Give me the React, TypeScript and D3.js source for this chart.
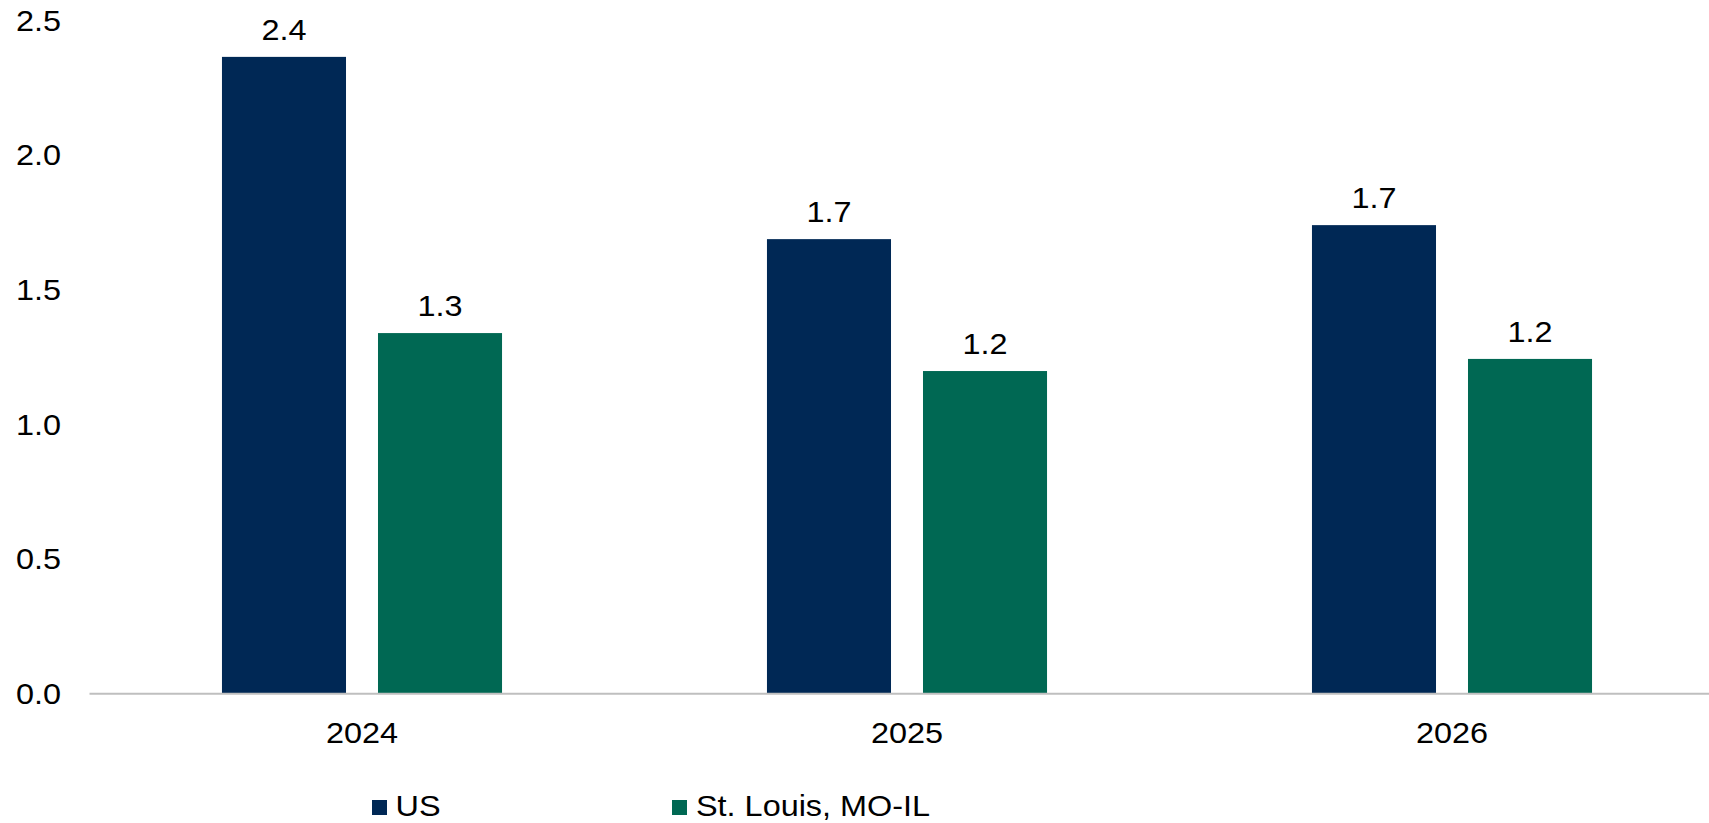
import React from "react";
import * as d3 from "d3";

// Years shown along the x axis
const categories: string[] = ["2024", "2025", "2026"];

// Series names and colours, in drawing order within each year
const seriesNames: string[] = ["US", "St. Louis, MO-IL"];
const seriesColors: string[] = ["#002855", "#006853"];

// Values per series, one per year
const usValues: number[] = [2.363, 1.686, 1.738];
const stlValues: number[] = [1.337, 1.196, 1.241];

// Y axis tick values
const yTicks: number[] = [0, 0.5, 1.0, 1.5, 2.0, 2.5];

const WIDTH = 1709;
const HEIGHT = 823;
const FONT = "'Liberation Sans', Arial, Helvetica, sans-serif";
const FS = 30;
const SX = 1.08; // horizontal stretch of the text glyphs

function Txt(props: {
  x: number;
  y: number;
  anchor?: "start" | "middle" | "end";
  children: React.ReactNode;
}) {
  return (
    <text
      transform={`translate(${props.x},${props.y}) scale(${SX},1)`}
      textAnchor={props.anchor ?? "start"}
      fontFamily={FONT}
      fontSize={FS}
      fill="#000"
    >
      {props.children}
    </text>
  );
}

export default function App() {
  const seriesValues = [usValues, stlValues];

  const x0 = d3
    .scaleBand<string>()
    .domain(categories)
    .range([89.5, 1724.5])
    .padding(0);

  const x1 = d3
    .scaleBand<string>()
    .domain(seriesNames)
    .range([0, x0.bandwidth()])
    .paddingInner(0.205)
    .paddingOuter(0.849);

  const y = d3.scaleLinear().domain([0, 2.5]).range([693, 20]);

  const fmt = d3.format(".1f");

  const legendItems = [
    { square: 372, text: 395.5 },
    { square: 672, text: 696 },
  ];

  return (
    <svg
      width={WIDTH}
      height={HEIGHT}
      style={{ position: "absolute", left: 0, top: 0, background: "#fff" }}
    >
      <rect x={0} y={0} width={WIDTH} height={HEIGHT} fill="#fff" />

      {/* y axis labels */}
      {yTicks.map((t) => (
        <Txt key={t} x={61} y={y(t) + 10.7} anchor="end">
          {fmt(t)}
        </Txt>
      ))}

      {/* bars and value labels */}
      {categories.map((c, ci) => (
        <g key={c} transform={`translate(${x0(c)},0)`}>
          {seriesNames.map((s, si) => {
            const v = seriesValues[si][ci];
            const bx = x1(s)!;
            const bw = x1.bandwidth();
            return (
              <g key={s}>
                <rect
                  x={bx}
                  y={y(v)}
                  width={bw}
                  height={y(0) - y(v)}
                  fill={seriesColors[si]}
                />
                <Txt x={bx + bw / 2} y={y(v) - 17} anchor="middle">
                  {fmt(v)}
                </Txt>
              </g>
            );
          })}
        </g>
      ))}

      {/* baseline */}
      <line
        x1={x0.range()[0]}
        x2={x0.range()[1]}
        y1={y(0) + 0.8}
        y2={y(0) + 0.8}
        stroke="#bfbfbf"
        strokeWidth={2}
      />

      {/* category labels */}
      {categories.map((c) => (
        <Txt key={c} x={x0(c)! + x0.bandwidth() / 2} y={743} anchor="middle">
          {c}
        </Txt>
      ))}

      {/* legend */}
      {seriesNames.map((s, i) => (
        <g key={s}>
          <rect
            x={legendItems[i].square}
            y={800}
            width={15}
            height={15}
            fill={seriesColors[i]}
          />
          <Txt x={legendItems[i].text} y={816}>
            {s}
          </Txt>
        </g>
      ))}
    </svg>
  );
}
